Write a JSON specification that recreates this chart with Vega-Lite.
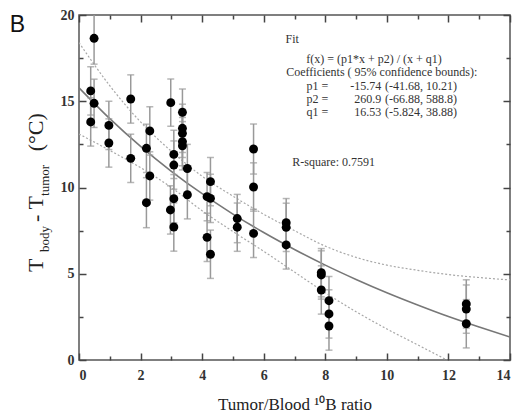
{
  "$schema": "https://vega.github.io/schema/vega-lite/v6.json",
  "width": 431,
  "height": 345,
  "autosize": "none",
  "padding": {"left": 79, "top": 15, "right": 8, "bottom": 58},
  "background": "white",
  "config": {
    "view": {"stroke": "#555", "strokeWidth": 1.5},
    "axis": {"grid": false, "domain": false, "tickColor": "#444", "tickWidth": 1.5, "labelFont": "Liberation Serif", "labelFontWeight": "bold", "labelFontSize": 14, "labelColor": "#333"},
    "text": {"font": "Liberation Serif"}
  },
  "datasets": {
    "pts": [
      {"x": 0.38, "y": 15.6, "e": 1.4}, {"x": 0.38, "y": 13.8, "e": 1.4},
      {"x": 0.49, "y": 18.65, "e": 1.5}, {"x": 0.49, "y": 14.88, "e": 1.4},
      {"x": 0.97, "y": 13.6, "e": 1.4}, {"x": 0.97, "y": 12.58, "e": 1.4},
      {"x": 1.68, "y": 15.13, "e": 1.4}, {"x": 1.68, "y": 11.69, "e": 1.4},
      {"x": 2.19, "y": 12.27, "e": 1.4}, {"x": 2.3, "y": 13.28, "e": 1.4},
      {"x": 2.3, "y": 10.67, "e": 1.4}, {"x": 2.19, "y": 9.12, "e": 1.45},
      {"x": 2.98, "y": 14.92, "e": 1.37}, {"x": 2.97, "y": 8.7, "e": 1.4},
      {"x": 3.08, "y": 11.92, "e": 1.4}, {"x": 3.08, "y": 11.3, "e": 1.4},
      {"x": 3.08, "y": 9.35, "e": 1.4}, {"x": 3.08, "y": 7.71, "e": 1.4},
      {"x": 3.36, "y": 14.36, "e": 1.35}, {"x": 3.36, "y": 13.43, "e": 1.4},
      {"x": 3.36, "y": 13.14, "e": 1.4}, {"x": 3.36, "y": 12.66, "e": 1.4},
      {"x": 3.36, "y": 12.42, "e": 1.4}, {"x": 3.52, "y": 11.1, "e": 1.4},
      {"x": 3.52, "y": 9.58, "e": 1.4}, {"x": 4.16, "y": 9.47, "e": 1.4},
      {"x": 4.16, "y": 7.11, "e": 1.4}, {"x": 4.27, "y": 10.34, "e": 1.4},
      {"x": 4.27, "y": 9.37, "e": 1.4}, {"x": 4.27, "y": 6.13, "e": 1.4},
      {"x": 5.14, "y": 8.2, "e": 1.4}, {"x": 5.14, "y": 7.7, "e": 1.4},
      {"x": 5.67, "y": 12.23, "e": 1.45}, {"x": 5.67, "y": 10.03, "e": 1.4},
      {"x": 5.67, "y": 7.34, "e": 1.4}, {"x": 6.73, "y": 7.96, "e": 1.4},
      {"x": 6.73, "y": 7.69, "e": 1.4}, {"x": 6.73, "y": 6.67, "e": 1.4},
      {"x": 7.87, "y": 5.06, "e": 1.4}, {"x": 7.87, "y": 4.93, "e": 1.4},
      {"x": 7.87, "y": 4.06, "e": 1.4}, {"x": 8.12, "y": 3.44, "e": 1.4},
      {"x": 8.12, "y": 2.67, "e": 1.4}, {"x": 8.12, "y": 1.97, "e": 1.4},
      {"x": 12.58, "y": 3.25, "e": 1.4}, {"x": 12.58, "y": 2.95, "e": 1.4},
      {"x": 12.58, "y": 2.1, "e": 1.4}
    ],
    "fit": [
      {"x": 0, "y": 15.78}, {"x": 1, "y": 13.99}, {"x": 2, "y": 12.38}, {"x": 3, "y": 10.94},
      {"x": 4, "y": 9.64}, {"x": 5, "y": 8.46}, {"x": 6, "y": 7.39}, {"x": 7, "y": 6.41},
      {"x": 8, "y": 5.5}, {"x": 9, "y": 4.67}, {"x": 10, "y": 3.9}, {"x": 11, "y": 3.19},
      {"x": 12, "y": 2.52}, {"x": 13, "y": 1.91}, {"x": 14, "y": 1.33}
    ],
    "upper": [
      {"x": 0, "y": 18.4}, {"x": 1, "y": 15.9}, {"x": 2, "y": 13.8}, {"x": 3, "y": 12.1},
      {"x": 4, "y": 10.65}, {"x": 5, "y": 9.5}, {"x": 6, "y": 8.45}, {"x": 7, "y": 7.5},
      {"x": 8, "y": 6.6}, {"x": 9, "y": 5.95}, {"x": 10, "y": 5.5}, {"x": 11, "y": 5.2},
      {"x": 12, "y": 4.95}, {"x": 13, "y": 4.78}, {"x": 14, "y": 4.64}
    ],
    "lower": [
      {"x": 0, "y": 13.1}, {"x": 1, "y": 12.15}, {"x": 2, "y": 11.15}, {"x": 3, "y": 10.0},
      {"x": 4, "y": 8.65}, {"x": 5, "y": 7.45}, {"x": 6, "y": 6.3}, {"x": 7, "y": 5.1},
      {"x": 8, "y": 3.9}, {"x": 9, "y": 2.8}, {"x": 10, "y": 1.8}, {"x": 11, "y": 0.88},
      {"x": 11.95, "y": 0}
    ],
    "notes": [
      {"x": 6.71, "y": 18.38, "t": "Fit"},
      {"x": 7.38, "y": 17.2, "t": "f(x) = (p1*x + p2) / (x + q1)"},
      {"x": 6.73, "y": 16.45, "t": "Coefficients ( 95% confidence bounds):"},
      {"x": 7.39, "y": 15.67, "t": "p1 ="},
      {"x": 7.39, "y": 14.88, "t": "p2 ="},
      {"x": 7.39, "y": 14.12, "t": "q1 ="},
      {"x": 9.94, "y": 15.67, "t": "(-41.68, 10.21)"},
      {"x": 9.94, "y": 14.88, "t": "(-66.88, 588.8)"},
      {"x": 9.94, "y": 14.12, "t": "(-5.824, 38.88)"},
      {"x": 6.93, "y": 11.25, "t": "R-square: 0.7591"}
    ],
    "vals": [
      {"x": 9.82, "y": 15.67, "t": "-15.74"},
      {"x": 9.82, "y": 14.88, "t": "260.9"},
      {"x": 9.82, "y": 14.12, "t": "16.53"}
    ],
    "ybig": [
      {"x": -1.162, "y": 5.1, "t": "T"},
      {"x": -1.162, "y": 8.0, "t": "- T"},
      {"x": -1.162, "y": 12.1, "t": "(°C)"}
    ],
    "ysmall": [
      {"x": -0.984, "y": 6.26, "t": "body"},
      {"x": -0.984, "y": 9.51, "t": "tumor"}
    ],
    "panel": [
      {"x": -2.25, "y": 19.03, "t": "B"}
    ]
  },
  "layer": [
    {
      "data": {"name": "fit"},
      "mark": {"type": "line", "color": "#777", "strokeWidth": 1.6, "interpolate": "monotone", "clip": true},
      "encoding": {
        "x": {"field": "x", "type": "quantitative", "scale": {"domain": [0, 14], "nice": false},
          "axis": {"orient": "bottom", "values": [0,1,2,3,4,5,6,7,8,9,10,11,12,13,14],
            "labelExpr": "datum.value % 2 ? '' : datum.label",
            "labelFont": "Liberation Serif", "labelFontWeight": "bold", "labelFontSize": 14,
            "tickSize": {"condition": {"test": "datum.value % 2", "value": -4}, "value": -7},
            "labelPadding": 15, "title": "Tumor/Blood ¹⁰B ratio", "titleFont": "Liberation Serif",
            "titleFontSize": 17, "titleFontWeight": "normal", "titleColor": "#222", "titlePadding": 14}},
        "y": {"field": "y", "type": "quantitative", "scale": {"domain": [0, 20], "nice": false},
          "axis": {"orient": "left", "values": [0,2.5,5,7.5,10,12.5,15,17.5,20],
            "labelExpr": "datum.value % 5 ? '' : datum.label",
            "labelFont": "Liberation Serif", "labelFontWeight": "bold", "labelFontSize": 14,
            "tickSize": {"condition": {"test": "datum.value % 5", "value": -4}, "value": -7},
            "labelPadding": 12, "title": null}}
      }
    },
    {
      "data": {"name": "upper"},
      "mark": {"type": "line", "color": "#a8a8a8", "strokeWidth": 1.2, "strokeDash": [2, 2], "interpolate": "monotone", "clip": true},
      "encoding": {
        "x": {"field": "x", "type": "quantitative", "scale": {"domain": [0, 14], "nice": false},
          "axis": {"orient": "top", "values": [0,1,2,3,4,5,6,7,8,9,10,11,12,13,14], "labels": false,
            "tickSize": {"condition": {"test": "datum.value % 2", "value": -4}, "value": -7}, "title": null}},
        "y": {"field": "y", "type": "quantitative", "scale": {"domain": [0, 20], "nice": false},
          "axis": {"orient": "right", "values": [0,2.5,5,7.5,10,12.5,15,17.5,20], "labels": false,
            "tickSize": {"condition": {"test": "datum.value % 5", "value": -4}, "value": -7}, "title": null}}
      }
    },
    {
      "data": {"name": "lower"},
      "mark": {"type": "line", "color": "#a8a8a8", "strokeWidth": 1.2, "strokeDash": [2, 2], "interpolate": "monotone", "clip": true},
      "encoding": {
        "x": {"field": "x", "type": "quantitative", "scale": {"domain": [0, 14], "nice": false}, "axis": null},
        "y": {"field": "y", "type": "quantitative", "scale": {"domain": [0, 20], "nice": false}, "axis": null}
      }
    },
    {
      "data": {"name": "pts"},
      "mark": {"type": "errorbar", "ticks": {"size": 7}, "color": "#999", "thickness": 1.5, "clip": true},
      "encoding": {
        "x": {"field": "x", "type": "quantitative", "scale": {"domain": [0, 14], "nice": false}, "axis": null},
        "y": {"field": "y", "type": "quantitative", "scale": {"domain": [0, 20], "nice": false}, "axis": null},
        "yError": {"field": "e"}
      }
    },
    {
      "data": {"name": "pts"},
      "mark": {"type": "circle", "color": "#000", "size": 80, "opacity": 1},
      "encoding": {
        "x": {"field": "x", "type": "quantitative", "scale": {"domain": [0, 14], "nice": false}, "axis": null},
        "y": {"field": "y", "type": "quantitative", "scale": {"domain": [0, 20], "nice": false}, "axis": null}
      }
    },
    {
      "data": {"name": "notes"},
      "mark": {"type": "text", "align": "left", "baseline": "alphabetic", "font": "Liberation Serif", "fontSize": 12, "color": "#333"},
      "encoding": {
        "x": {"field": "x", "type": "quantitative", "scale": {"domain": [0, 14], "nice": false}, "axis": null},
        "y": {"field": "y", "type": "quantitative", "scale": {"domain": [0, 20], "nice": false}, "axis": null},
        "text": {"field": "t"}
      }
    },
    {
      "data": {"name": "vals"},
      "mark": {"type": "text", "align": "right", "baseline": "alphabetic", "font": "Liberation Serif", "fontSize": 12, "color": "#333"},
      "encoding": {
        "x": {"field": "x", "type": "quantitative", "scale": {"domain": [0, 14], "nice": false}, "axis": null},
        "y": {"field": "y", "type": "quantitative", "scale": {"domain": [0, 20], "nice": false}, "axis": null},
        "text": {"field": "t"}
      }
    },
    {
      "data": {"name": "ybig"},
      "mark": {"type": "text", "align": "left", "baseline": "alphabetic", "angle": 270, "font": "Liberation Serif", "fontSize": 22, "color": "#222"},
      "encoding": {
        "x": {"field": "x", "type": "quantitative", "scale": {"domain": [0, 14], "nice": false}, "axis": null},
        "y": {"field": "y", "type": "quantitative", "scale": {"domain": [0, 20], "nice": false}, "axis": null},
        "text": {"field": "t"}
      }
    },
    {
      "data": {"name": "ysmall"},
      "mark": {"type": "text", "align": "left", "baseline": "alphabetic", "angle": 270, "font": "Liberation Serif", "fontSize": 13, "color": "#222"},
      "encoding": {
        "x": {"field": "x", "type": "quantitative", "scale": {"domain": [0, 14], "nice": false}, "axis": null},
        "y": {"field": "y", "type": "quantitative", "scale": {"domain": [0, 20], "nice": false}, "axis": null},
        "text": {"field": "t"}
      }
    },
    {
      "data": {"name": "panel"},
      "mark": {"type": "text", "align": "left", "baseline": "alphabetic", "font": "Liberation Sans", "fontSize": 23, "color": "#111"},
      "encoding": {
        "x": {"field": "x", "type": "quantitative", "scale": {"domain": [0, 14], "nice": false}, "axis": null},
        "y": {"field": "y", "type": "quantitative", "scale": {"domain": [0, 20], "nice": false}, "axis": null},
        "text": {"field": "t"}
      }
    }
  ],
  "resolve": {"axis": {"x": "independent", "y": "independent"}}
}
